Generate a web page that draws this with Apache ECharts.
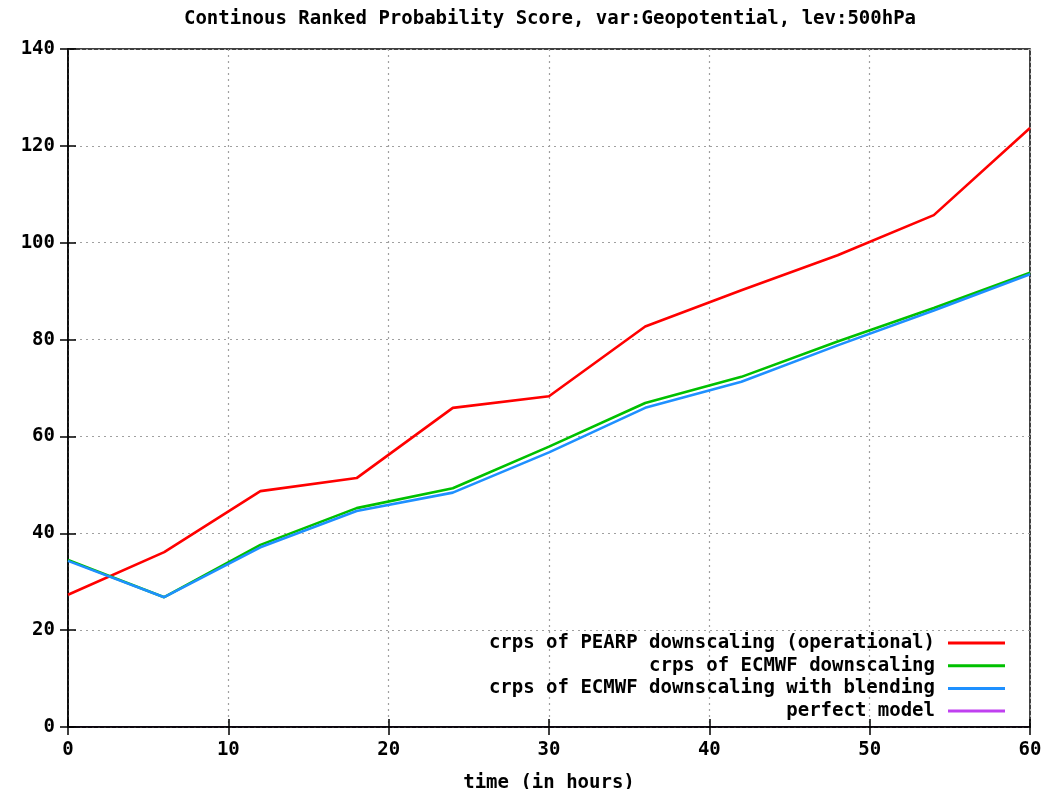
<!DOCTYPE html>
<html>
<head>
<meta charset="utf-8">
<script src="https://cdn.jsdelivr.net/npm/echarts@6/dist/echarts.min.js"></script>
<style>
  html, body { margin: 0; padding: 0; background: #fff; }
  #chart { width: 1062px; height: 789px; }
</style>
</head>
<body>
<div id="chart"></div>
<script>
// Forecast lead times (hours)
const hours = [0, 6, 12, 18, 24, 30, 36, 42, 48, 54, 60];

// CRPS values per lead time
const pearpOperational = [27.3, 36.1, 48.7, 51.4, 65.9, 68.3, 82.7, 90.2, 97.4, 105.7, 123.7];
const ecmwfDownscaling = [34.5, 26.8, 37.6, 45.2, 49.3, 57.9, 66.9, 72.3, 79.6, 86.5, 93.8];
const ecmwfBlending    = [34.3, 26.8, 37.1, 44.6, 48.4, 56.7, 65.9, 71.3, 78.8, 86.0, 93.5];
const perfectModel     = [0, 0, 0, 0, 0, 0, 0, 0, 0, 0, 0];

const seriesNames = [
  'crps of PEARP downscaling (operational)',
  'crps of ECMWF downscaling',
  'crps of ECMWF downscaling with blending',
  'perfect model'
];

const FONT = '"DejaVu Sans Mono", monospace';
const FS = 19;
const pairs = vals => hours.map((h, i) => [h, vals[i]]);

const chart = echarts.init(document.getElementById('chart'));

const gridLine = { show: true, lineStyle: { color: '#a0a0a0', type: [2, 4], width: 1.2 } };
const tickIn = { show: true, inside: true, length: 8, lineStyle: { color: '#000', width: 1.5 } };
const txt = { fontFamily: FONT, fontWeight: 'bold', fontSize: FS, color: '#000' };

function lineSeries(name, vals, color, width, z) {
  return {
    name, type: 'line', data: pairs(vals),
    showSymbol: false, symbol: 'none', z,
    lineStyle: { color, width },
    itemStyle: { color },
    emphasis: { disabled: true }
  };
}

chart.setOption({
  animation: false,
  backgroundColor: '#fff',
  title: {
    text: 'Continous Ranked Probability Score, var:Geopotential, lev:500hPa',
    left: 545, top: 5, textAlign: 'center',
    textStyle: txt
  },
  grid: {
    left: 68, right: 32, top: 49, bottom: 62,
    outerBoundsMode: 'none', containLabel: false,
    show: true, borderColor: '#000', borderWidth: 1.5, backgroundColor: 'transparent'
  },
  legend: {
    orient: 'vertical', right: 52, top: 628, align: 'right',
    itemWidth: 57, itemHeight: 3, itemGap: 2.7,
    icon: 'rect',
    textStyle: Object.assign({ lineHeight: 20, padding: [0, 8, 0, 0] }, txt),
    data: seriesNames.map(n => ({ name: n }))
  },
  xAxis: [{
    type: 'value', min: 0, max: 60, interval: 10,
    name: 'time (in hours)', nameLocation: 'middle', nameGap: 47,
    nameTextStyle: txt,
    axisLine: { show: true, lineStyle: { color: '#000', width: 1.5 } },
    axisTick: tickIn,
    axisLabel: Object.assign({ margin: 14 }, txt),
    splitLine: gridLine
  }, {
    type: 'value', position: 'top', min: 0, max: 60, interval: 10,
    axisLine: { show: false }, axisTick: tickIn,
    axisLabel: { show: false }, splitLine: { show: false }
  }],
  yAxis: [{
    type: 'value', min: 0, max: 140, interval: 20,
    axisLine: { show: true, lineStyle: { color: '#000', width: 1.5 } },
    axisTick: tickIn,
    axisLabel: Object.assign({ margin: 13 }, txt),
    splitLine: gridLine
  }, {
    type: 'value', position: 'right', min: 0, max: 140, interval: 20,
    axisLine: { show: false }, axisTick: tickIn,
    axisLabel: { show: false }, splitLine: { show: false }
  }],
  series: [
    lineSeries(seriesNames[3], perfectModel, '#c040f0', 1.5, -1),
    lineSeries(seriesNames[0], pearpOperational, '#ff0000', 2.6, 3),
    lineSeries(seriesNames[1], ecmwfDownscaling, '#00c000', 2.6, 4),
    lineSeries(seriesNames[2], ecmwfBlending, '#1e90ff', 2.6, 5)
  ]
});
</script>
</body>
</html>
